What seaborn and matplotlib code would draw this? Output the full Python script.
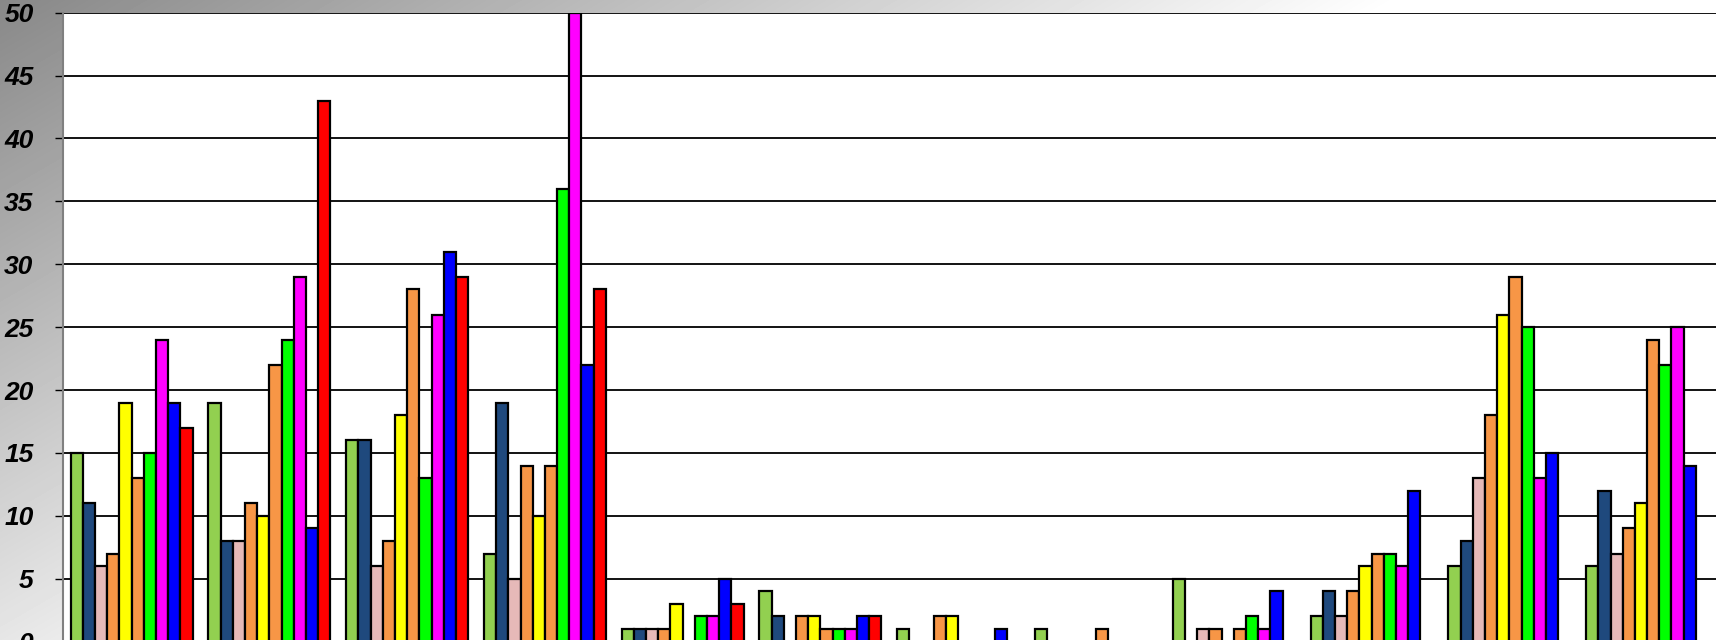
import numpy as np
import pandas as pd
import matplotlib
matplotlib.use('Agg')
import matplotlib.pyplot as plt
import seaborn as sns

# categories (x groups) and series
categories = ['1', '2', '3', '4', '5', '6', '7', '8', '9', '10', '11', '12']
series = ['S1', 'S2', 'S3', 'S4', 'S5', 'S6', 'S7', 'S8', 'S9', 'S10']
series_colors = ['#92D050', '#1F497D', '#E6B9B8', '#F79646', '#FFFF00',
                 '#F79646', '#00FF00', '#FF00FF', '#0000FF', '#FF0000']

# values per series, one value per category
s1 = [15, 19, 16, 7, 1, 4, 1, 1, 5, 2, 6, 6]
s2 = [11, 8, 16, 19, 1, 2, 0, 0, 0, 4, 8, 12]
s3 = [6, 8, 6, 5, 1, 0, 0, 0, 1, 2, 13, 7]
s4 = [7, 11, 8, 14, 1, 2, 2, 0, 1, 4, 18, 9]
s5 = [19, 10, 18, 10, 3, 2, 2, 0, 0, 6, 26, 11]
s6 = [13, 22, 28, 14, 0, 1, 0, 1, 1, 7, 29, 24]
s7 = [15, 24, 13, 36, 2, 1, 0, 0, 2, 7, 25, 22]
s8 = [24, 29, 26, 50, 2, 1, 0, 0, 1, 6, 13, 25]
s9 = [19, 9, 31, 22, 5, 2, 1, 0, 4, 12, 15, 14]
s10 = [17, 43, 29, 28, 3, 2, 0, 0, 0, 0, 0, 0]

yticks = [0, 5, 10, 15, 20, 25, 30, 35, 40, 45, 50]

all_values = [s1, s2, s3, s4, s5, s6, s7, s8, s9, s10]
rows = []
for name, vals in zip(series, all_values):
    for cat, v in zip(categories, vals):
        rows.append({'categoria': cat, 'serie': name, 'valor': v})
df = pd.DataFrame(rows)

sns.set_theme(style='white')
plt.rcParams['font.family'] = ['Liberation Sans', 'DejaVu Sans']

W, H = 1719, 640
fig = plt.figure(figsize=(W / 100, H / 100), dpi=100)

# fundo em degrade cinza (diagonal)
bg = fig.add_axes([0, 0, 1, 1])
xx, yy = np.meshgrid(np.arange(W), np.arange(H))
shade = np.clip(136 + 0.085 * xx + 0.147 * yy, 0, 255) / 255.0
bg.imshow(shade, cmap='gray', vmin=0, vmax=1, aspect='auto',
          extent=[0, W, H, 0], interpolation='bilinear')
bg.axis('off')

left_px, right_px, top_px, bottom_px = 62.7, 1716, 12.7, 641.6
ax = fig.add_axes([left_px / W, 1 - bottom_px / H,
                   (right_px - left_px) / W, (bottom_px - top_px) / H])
ax.set_facecolor('white')

palette = dict(zip(series, series_colors))
sns.barplot(data=df, x='categoria', y='valor', hue='serie', order=categories,
            hue_order=series, palette=palette, width=0.885, gap=0,
            edgecolor='black', linewidth=1.6, saturation=1, legend=False,
            errorbar=None, ax=ax, zorder=3)

ax.set_xlim(-0.5, len(categories) - 0.5)
ax.set_ylim(0, 50)
ax.set_yticks(yticks)
ax.set_yticklabels([str(t) for t in yticks], fontsize=19,
                   fontweight='bold', fontstyle='italic', color='black')
ax.yaxis.grid(True, color='black', linewidth=1.3, zorder=0)
ax.set_axisbelow(True)
ax.tick_params(axis='y', which='major', direction='out', length=6,
               width=1, color='black', pad=15, left=True)
ax.tick_params(axis='x', bottom=False, labelbottom=False)
ax.set_xlabel('')
ax.set_ylabel('')
for side in ['top', 'right', 'bottom']:
    ax.spines[side].set_visible(False)
ax.spines['left'].set_color('#808080')
ax.spines['left'].set_linewidth(1.5)

fig.savefig('out.png', dpi=100)
